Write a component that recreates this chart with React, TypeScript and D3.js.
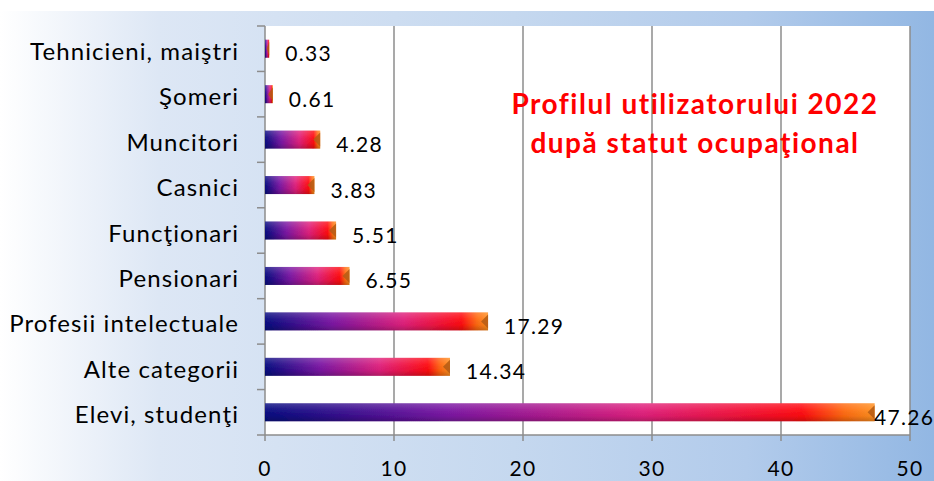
import React from "react";
import * as d3 from "d3";

const categories = [
  "Tehnicieni, maiştri",
  "Şomeri",
  "Muncitori",
  "Casnici",
  "Funcţionari",
  "Pensionari",
  "Profesii intelectuale",
  "Alte categorii",
  "Elevi, studenţi",
];
const values = [0.33, 0.61, 4.28, 3.83, 5.51, 6.55, 17.29, 14.34, 47.26];
const xTicks = [0, 10, 20, 30, 40, 50];
const titleLines = ["Profilul utilizatorului 2022", "după statut ocupaţional"];

const W = 934;
const H = 481;
const FONT = "Lato, 'Open Sans', sans-serif";

export default function App() {
  const left = 265;
  const right = 910;
  const top = 26;
  const bottom = 435;

  const x = d3.scaleLinear().domain([0, 50]).range([left, right]);
  const y = d3.scaleBand<string>().domain(categories).range([top, bottom]);
  const bw = 18;

  return (
    <svg
      width={W}
      height={H}
      style={{ position: "absolute", left: 0, top: 0, display: "block" }}
    >
      <defs>
        <linearGradient id="bg" x1="0" y1="0" x2="1" y2="0">
          <stop offset="0" stopColor="#ffffff" />
          <stop offset="0.17" stopColor="#dde7f5" />
          <stop offset="0.55" stopColor="#c5d8ef" />
          <stop offset="0.8" stopColor="#b2cbeb" />
          <stop offset="1" stopColor="#92b7e3" />
        </linearGradient>
        <linearGradient id="barH" x1="0" y1="0" x2="1" y2="0">
          <stop offset="0" stopColor="#060a80" />
          <stop offset="0.3" stopColor="#7b16a3" />
          <stop offset="0.62" stopColor="#e0207c" />
          <stop offset="0.88" stopColor="#ff0a10" />
          <stop offset="0.95" stopColor="#ff6a10" />
          <stop offset="1" stopColor="#ff9020" />
        </linearGradient>
        <linearGradient id="barV" x1="0" y1="0" x2="0" y2="1">
          <stop offset="0" stopColor="#ffffff" stopOpacity="0.2" />
          <stop offset="0.35" stopColor="#ffffff" stopOpacity="0.06" />
          <stop offset="0.7" stopColor="#000000" stopOpacity="0.04" />
          <stop offset="1" stopColor="#000000" stopOpacity="0.22" />
        </linearGradient>
        <filter id="soft" x="-10%" y="-30%" width="120%" height="160%">
          <feGaussianBlur stdDeviation="0.7" />
        </filter>
      </defs>

      <rect x={0} y={11} width={W} height={H - 11} fill="url(#bg)" />
      <rect x={left} y={top} width={right - left} height={bottom - top} fill="#ffffff" />

      {xTicks.map((t) => (
        <line
          key={"g" + t}
          x1={x(t)}
          x2={x(t)}
          y1={top}
          y2={bottom + 6}
          stroke="#8c8c8c"
          strokeWidth={1.5}
        />
      ))}
      <line x1={left} x2={right} y1={bottom} y2={bottom} stroke="#8c8c8c" strokeWidth={1.5} />

      {categories.map((c, i) => (
        <line
          key={"t" + i}
          x1={left - 8}
          x2={left}
          y1={y(c)!}
          y2={y(c)!}
          stroke="#8c8c8c"
          strokeWidth={1.5}
        />
      ))}
      <line x1={left - 8} x2={left} y1={bottom} y2={bottom} stroke="#8c8c8c" strokeWidth={1.5} />

      {categories.map((c, i) => {
        const cy = y(c)! + y.bandwidth() / 2;
        const x0 = x(0);
        const x1 = x(values[i]);
        const w = x1 - x0;
        const cap = Math.min(7, w * 0.6);
        return (
          <g key={"b" + i}>
            <g filter="url(#soft)">
              <rect x={x0} y={cy - bw / 2} width={w} height={bw} fill="url(#barH)" />
              <rect x={x0} y={cy - bw / 2} width={w} height={bw} fill="url(#barV)" />
              <path
                d={`M${x1},${cy - 7} L${x1 - cap},${cy} L${x1},${cy + 7} Z`}
                fill="#b45a14"
                opacity={0.85}
              />
            </g>
          </g>
        );
      })}

      {categories.map((c, i) => {
        const cy = y(c)! + y.bandwidth() / 2;
        const lx = Math.min(x(values[i]) + 16, W - 60);
        return (
          <text
            key={"v" + i}
            x={lx}
            y={cy + 12.5}
            fontFamily={FONT}
            fontSize={21}
            letterSpacing={1.3}
            fill="#000"
          >
            {values[i].toFixed(2)}
          </text>
        );
      })}

      {categories.map((c) => (
        <text
          key={"c" + c}
          x={239}
          y={y(c)! + y.bandwidth() / 2 + 11}
          textAnchor="end"
          fontFamily={FONT}
          fontSize={24}
          letterSpacing={1.1}
          fill="#000"
        >
          {c}
        </text>
      ))}

      {xTicks.map((t) => (
        <text
          key={"x" + t}
          x={x(t)}
          y={476}
          textAnchor="middle"
          fontFamily={FONT}
          fontSize={21}
          letterSpacing={1.3}
          fill="#000"
        >
          {t}
        </text>
      ))}

      {titleLines.map((l, i) => (
        <text
          key={"ti" + i}
          x={695}
          y={114 + i * 39}
          textAnchor="middle"
          fontFamily={FONT}
          fontWeight="bold"
          fontSize={28}
          letterSpacing={1.5}
          fill="#ff0000"
        >
          {l}
        </text>
      ))}
    </svg>
  );
}
